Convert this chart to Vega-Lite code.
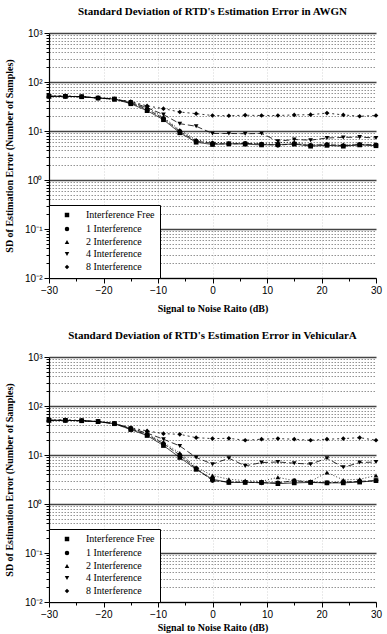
{
  "$schema": "https://vega.github.io/schema/vega-lite/v6.json",
  "padding": {"left": 4, "top": 6, "right": 7, "bottom": 1},
  "spacing": 17,
  "background": "white",
  "config": {"view": {"stroke": null}, "font": "Liberation Serif",
    "legend": {"labelFont": "Liberation Serif", "labelFontSize": 10, "labelColor": "black", "symbolSize": 20, "symbolFillColor": "black", "symbolStrokeColor": "black", "strokeColor": "black", "fillColor": "white", "padding": 5, "rowPadding": 2, "labelOffset": 14, "symbolOffset": 8}},
  "resolve": {"scale": {"shape": "independent", "strokeDash": "independent"}, "legend": {"shape": "independent", "strokeDash": "independent"}},
  "datasets": {
    "awgn": [
      {"snr": -30, "series": "Interference Free", "sd": 51}, {"snr": -27, "series": "Interference Free", "sd": 51}, {"snr": -24, "series": "Interference Free", "sd": 50}, {"snr": -21, "series": "Interference Free", "sd": 47}, {"snr": -18, "series": "Interference Free", "sd": 45}, {"snr": -15, "series": "Interference Free", "sd": 36}, {"snr": -12, "series": "Interference Free", "sd": 26}, {"snr": -9, "series": "Interference Free", "sd": 17}, {"snr": -6, "series": "Interference Free", "sd": 9.2}, {"snr": -3, "series": "Interference Free", "sd": 5.9}, {"snr": 0, "series": "Interference Free", "sd": 5.3}, {"snr": 3, "series": "Interference Free", "sd": 5.5}, {"snr": 6, "series": "Interference Free", "sd": 5.4}, {"snr": 9, "series": "Interference Free", "sd": 5.2}, {"snr": 12, "series": "Interference Free", "sd": 5.3}, {"snr": 15, "series": "Interference Free", "sd": 5.4}, {"snr": 18, "series": "Interference Free", "sd": 4.9}, {"snr": 21, "series": "Interference Free", "sd": 5.1}, {"snr": 24, "series": "Interference Free", "sd": 4.9}, {"snr": 27, "series": "Interference Free", "sd": 5.2}, {"snr": 30, "series": "Interference Free", "sd": 5.0},
      {"snr": -30, "series": "1 Interference", "sd": 51}, {"snr": -27, "series": "1 Interference", "sd": 51}, {"snr": -24, "series": "1 Interference", "sd": 50}, {"snr": -21, "series": "1 Interference", "sd": 47}, {"snr": -18, "series": "1 Interference", "sd": 45}, {"snr": -15, "series": "1 Interference", "sd": 37}, {"snr": -12, "series": "1 Interference", "sd": 28}, {"snr": -9, "series": "1 Interference", "sd": 18}, {"snr": -6, "series": "1 Interference", "sd": 9.8}, {"snr": -3, "series": "1 Interference", "sd": 6.2}, {"snr": 0, "series": "1 Interference", "sd": 5.6}, {"snr": 3, "series": "1 Interference", "sd": 5.4}, {"snr": 6, "series": "1 Interference", "sd": 5.6}, {"snr": 9, "series": "1 Interference", "sd": 5.4}, {"snr": 12, "series": "1 Interference", "sd": 5.1}, {"snr": 15, "series": "1 Interference", "sd": 5.5}, {"snr": 18, "series": "1 Interference", "sd": 5.1}, {"snr": 21, "series": "1 Interference", "sd": 5.3}, {"snr": 24, "series": "1 Interference", "sd": 5.0}, {"snr": 27, "series": "1 Interference", "sd": 5.3}, {"snr": 30, "series": "1 Interference", "sd": 5.2},
      {"snr": -30, "series": "2 Interference", "sd": 51}, {"snr": -27, "series": "2 Interference", "sd": 51}, {"snr": -24, "series": "2 Interference", "sd": 50}, {"snr": -21, "series": "2 Interference", "sd": 47}, {"snr": -18, "series": "2 Interference", "sd": 44}, {"snr": -15, "series": "2 Interference", "sd": 38}, {"snr": -12, "series": "2 Interference", "sd": 30}, {"snr": -9, "series": "2 Interference", "sd": 19}, {"snr": -6, "series": "2 Interference", "sd": 10.5}, {"snr": -3, "series": "2 Interference", "sd": 6.6}, {"snr": 0, "series": "2 Interference", "sd": 5.9}, {"snr": 3, "series": "2 Interference", "sd": 5.7}, {"snr": 6, "series": "2 Interference", "sd": 5.6}, {"snr": 9, "series": "2 Interference", "sd": 5.5}, {"snr": 12, "series": "2 Interference", "sd": 5.8}, {"snr": 15, "series": "2 Interference", "sd": 5.9}, {"snr": 18, "series": "2 Interference", "sd": 5.2}, {"snr": 21, "series": "2 Interference", "sd": 5.5}, {"snr": 24, "series": "2 Interference", "sd": 5.3}, {"snr": 27, "series": "2 Interference", "sd": 5.4}, {"snr": 30, "series": "2 Interference", "sd": 5.3},
      {"snr": -30, "series": "4 Interference", "sd": 51}, {"snr": -27, "series": "4 Interference", "sd": 51}, {"snr": -24, "series": "4 Interference", "sd": 50}, {"snr": -21, "series": "4 Interference", "sd": 47}, {"snr": -18, "series": "4 Interference", "sd": 45}, {"snr": -15, "series": "4 Interference", "sd": 39}, {"snr": -12, "series": "4 Interference", "sd": 30}, {"snr": -9, "series": "4 Interference", "sd": 21.6}, {"snr": -6, "series": "4 Interference", "sd": 14.1}, {"snr": -3, "series": "4 Interference", "sd": 12.5}, {"snr": 0, "series": "4 Interference", "sd": 8.9}, {"snr": 3, "series": "4 Interference", "sd": 8.9}, {"snr": 6, "series": "4 Interference", "sd": 8.8}, {"snr": 9, "series": "4 Interference", "sd": 8.9}, {"snr": 12, "series": "4 Interference", "sd": 6.2}, {"snr": 15, "series": "4 Interference", "sd": 6.7}, {"snr": 18, "series": "4 Interference", "sd": 6.5}, {"snr": 21, "series": "4 Interference", "sd": 7.2}, {"snr": 24, "series": "4 Interference", "sd": 7.4}, {"snr": 27, "series": "4 Interference", "sd": 7.5}, {"snr": 30, "series": "4 Interference", "sd": 7.2},
      {"snr": -30, "series": "8 Interference", "sd": 52}, {"snr": -27, "series": "8 Interference", "sd": 52}, {"snr": -24, "series": "8 Interference", "sd": 50}, {"snr": -21, "series": "8 Interference", "sd": 48}, {"snr": -18, "series": "8 Interference", "sd": 45}, {"snr": -15, "series": "8 Interference", "sd": 40}, {"snr": -12, "series": "8 Interference", "sd": 32.5}, {"snr": -9, "series": "8 Interference", "sd": 28.6}, {"snr": -6, "series": "8 Interference", "sd": 24.4}, {"snr": -3, "series": "8 Interference", "sd": 22.6}, {"snr": 0, "series": "8 Interference", "sd": 20.7}, {"snr": 3, "series": "8 Interference", "sd": 20.5}, {"snr": 6, "series": "8 Interference", "sd": 21}, {"snr": 9, "series": "8 Interference", "sd": 20.7}, {"snr": 12, "series": "8 Interference", "sd": 20.7}, {"snr": 15, "series": "8 Interference", "sd": 21.3}, {"snr": 18, "series": "8 Interference", "sd": 21.5}, {"snr": 21, "series": "8 Interference", "sd": 23.2}, {"snr": 24, "series": "8 Interference", "sd": 21.3}, {"snr": 27, "series": "8 Interference", "sd": 20}, {"snr": 30, "series": "8 Interference", "sd": 20.7}
    ],
    "veh": [
      {"snr": -30, "series": "Interference Free", "sd": 51}, {"snr": -27, "series": "Interference Free", "sd": 51}, {"snr": -24, "series": "Interference Free", "sd": 50}, {"snr": -21, "series": "Interference Free", "sd": 48}, {"snr": -18, "series": "Interference Free", "sd": 43.5}, {"snr": -15, "series": "Interference Free", "sd": 33}, {"snr": -12, "series": "Interference Free", "sd": 25}, {"snr": -9, "series": "Interference Free", "sd": 15.6}, {"snr": -6, "series": "Interference Free", "sd": 8.9}, {"snr": -3, "series": "Interference Free", "sd": 5.1}, {"snr": 0, "series": "Interference Free", "sd": 3.2}, {"snr": 3, "series": "Interference Free", "sd": 2.75}, {"snr": 6, "series": "Interference Free", "sd": 2.75}, {"snr": 9, "series": "Interference Free", "sd": 2.75}, {"snr": 12, "series": "Interference Free", "sd": 2.6}, {"snr": 15, "series": "Interference Free", "sd": 2.7}, {"snr": 18, "series": "Interference Free", "sd": 2.75}, {"snr": 21, "series": "Interference Free", "sd": 2.7}, {"snr": 24, "series": "Interference Free", "sd": 2.7}, {"snr": 27, "series": "Interference Free", "sd": 2.8}, {"snr": 30, "series": "Interference Free", "sd": 3.0},
      {"snr": -30, "series": "1 Interference", "sd": 51}, {"snr": -27, "series": "1 Interference", "sd": 51}, {"snr": -24, "series": "1 Interference", "sd": 50}, {"snr": -21, "series": "1 Interference", "sd": 48}, {"snr": -18, "series": "1 Interference", "sd": 43.5}, {"snr": -15, "series": "1 Interference", "sd": 34}, {"snr": -12, "series": "1 Interference", "sd": 26}, {"snr": -9, "series": "1 Interference", "sd": 17}, {"snr": -6, "series": "1 Interference", "sd": 10}, {"snr": -3, "series": "1 Interference", "sd": 5.3}, {"snr": 0, "series": "1 Interference", "sd": 3.0}, {"snr": 3, "series": "1 Interference", "sd": 2.8}, {"snr": 6, "series": "1 Interference", "sd": 2.8}, {"snr": 9, "series": "1 Interference", "sd": 2.7}, {"snr": 12, "series": "1 Interference", "sd": 2.7}, {"snr": 15, "series": "1 Interference", "sd": 3.0}, {"snr": 18, "series": "1 Interference", "sd": 2.8}, {"snr": 21, "series": "1 Interference", "sd": 2.7}, {"snr": 24, "series": "1 Interference", "sd": 2.8}, {"snr": 27, "series": "1 Interference", "sd": 2.9}, {"snr": 30, "series": "1 Interference", "sd": 3.0},
      {"snr": -30, "series": "2 Interference", "sd": 51}, {"snr": -27, "series": "2 Interference", "sd": 51}, {"snr": -24, "series": "2 Interference", "sd": 50}, {"snr": -21, "series": "2 Interference", "sd": 48}, {"snr": -18, "series": "2 Interference", "sd": 44}, {"snr": -15, "series": "2 Interference", "sd": 35}, {"snr": -12, "series": "2 Interference", "sd": 27}, {"snr": -9, "series": "2 Interference", "sd": 18}, {"snr": -6, "series": "2 Interference", "sd": 11}, {"snr": -3, "series": "2 Interference", "sd": 5.6}, {"snr": 0, "series": "2 Interference", "sd": 3.8}, {"snr": 3, "series": "2 Interference", "sd": 3.2}, {"snr": 6, "series": "2 Interference", "sd": 3.0}, {"snr": 9, "series": "2 Interference", "sd": 2.9}, {"snr": 12, "series": "2 Interference", "sd": 3.5}, {"snr": 15, "series": "2 Interference", "sd": 3.0}, {"snr": 18, "series": "2 Interference", "sd": 2.9}, {"snr": 21, "series": "2 Interference", "sd": 4.4}, {"snr": 24, "series": "2 Interference", "sd": 3.1}, {"snr": 27, "series": "2 Interference", "sd": 3.2}, {"snr": 30, "series": "2 Interference", "sd": 3.8},
      {"snr": -30, "series": "4 Interference", "sd": 51}, {"snr": -27, "series": "4 Interference", "sd": 51}, {"snr": -24, "series": "4 Interference", "sd": 50}, {"snr": -21, "series": "4 Interference", "sd": 48}, {"snr": -18, "series": "4 Interference", "sd": 44}, {"snr": -15, "series": "4 Interference", "sd": 35}, {"snr": -12, "series": "4 Interference", "sd": 28}, {"snr": -9, "series": "4 Interference", "sd": 21}, {"snr": -6, "series": "4 Interference", "sd": 15.3}, {"snr": -3, "series": "4 Interference", "sd": 8.9}, {"snr": 0, "series": "4 Interference", "sd": 6.5}, {"snr": 3, "series": "4 Interference", "sd": 8.6}, {"snr": 6, "series": "4 Interference", "sd": 6.0}, {"snr": 9, "series": "4 Interference", "sd": 7.0}, {"snr": 12, "series": "4 Interference", "sd": 7.2}, {"snr": 15, "series": "4 Interference", "sd": 6.8}, {"snr": 18, "series": "4 Interference", "sd": 6.5}, {"snr": 21, "series": "4 Interference", "sd": 8.6}, {"snr": 24, "series": "4 Interference", "sd": 5.6}, {"snr": 27, "series": "4 Interference", "sd": 7.0}, {"snr": 30, "series": "4 Interference", "sd": 7.2},
      {"snr": -30, "series": "8 Interference", "sd": 52}, {"snr": -27, "series": "8 Interference", "sd": 52}, {"snr": -24, "series": "8 Interference", "sd": 51}, {"snr": -21, "series": "8 Interference", "sd": 48}, {"snr": -18, "series": "8 Interference", "sd": 44}, {"snr": -15, "series": "8 Interference", "sd": 36}, {"snr": -12, "series": "8 Interference", "sd": 31}, {"snr": -9, "series": "8 Interference", "sd": 27.3}, {"snr": -6, "series": "8 Interference", "sd": 26.4}, {"snr": -3, "series": "8 Interference", "sd": 22.6}, {"snr": 0, "series": "8 Interference", "sd": 21.6}, {"snr": 3, "series": "8 Interference", "sd": 21.9}, {"snr": 6, "series": "8 Interference", "sd": 20}, {"snr": 9, "series": "8 Interference", "sd": 21}, {"snr": 12, "series": "8 Interference", "sd": 21.6}, {"snr": 15, "series": "8 Interference", "sd": 21}, {"snr": 18, "series": "8 Interference", "sd": 20}, {"snr": 21, "series": "8 Interference", "sd": 21}, {"snr": 24, "series": "8 Interference", "sd": 21.6}, {"snr": 27, "series": "8 Interference", "sd": 22.6}, {"snr": 30, "series": "8 Interference", "sd": 20}
    ]
  },
  "vconcat": [
    {
      "title": {"text": "Standard Deviation of RTD's Estimation Error in AWGN", "font": "Liberation Serif", "fontSize": 11, "fontWeight": "bold", "offset": 11, "color": "black"},
      "width": 327, "height": 245,
      "data": {"name": "awgn"},
      "encoding": {
        "x": {"field": "snr", "type": "quantitative", "title": "Signal to Noise Raito (dB)",
          "scale": {"domain": [-30, 30], "nice": false, "zero": false},
          "axis": {"values": [-30, -25, -20, -15, -10, -5, 0, 5, 10, 15, 20, 25, 30], "labelExpr": "datum.value % 10 == 0 ? datum.label : ''", "labelFlush": false, "labelOverlap": false, "labelFont": "Liberation Sans", "labelFontSize": 10, "labelColor": "black", "labelPadding": 2, "tickColor": "black", "tickSize": {"condition": {"test": "datum.value % 10 == 0", "value": 5}, "value": 3}, "domainColor": "black", "domainWidth": 1.2, "grid": true, "gridColor": "#888", "gridDash": [1, 2], "gridWidth": 0.6, "gridOpacity": {"condition": {"test": "datum.value % 10 == 0 && abs(datum.value) < 30", "value": 0.6}, "value": 0}, "titleFont": "Liberation Serif", "titleFontSize": 10, "titleFontWeight": "bold", "titleColor": "black", "titlePadding": 8}},
        "y": {"field": "sd", "type": "quantitative", "title": "SD of Estimation Error (Number of Samples)",
          "scale": {"type": "log", "domain": [0.01, 1000], "nice": false},
          "axis": {"values": [0.01, 0.02, 0.03, 0.04, 0.05, 0.06, 0.07, 0.08, 0.09, 0.1, 0.2, 0.3, 0.4, 0.5, 0.6, 0.7, 0.8, 0.9, 1, 2, 3, 4, 5, 6, 7, 8, 9, 10, 20, 30, 40, 50, 60, 70, 80, 90, 100, 200, 300, 400, 500, 600, 700, 800, 900, 1000],
            "labelExpr": "datum.value == 1000 ? '10³' : datum.value == 100 ? '10²' : datum.value == 10 ? '10¹' : datum.value == 1 ? '10⁰' : datum.value == 0.1 ? '10⁻¹' : datum.value == 0.01 ? '10⁻²' : ''",
            "labelOverlap": false, "labelFont": "Liberation Sans", "labelFontSize": 10, "labelColor": "black", "labelPadding": 2,
            "tickColor": "black", "tickSize": {"condition": {"test": "indexof([0.01,0.1,1,10,100,1000], datum.value) >= 0", "value": 5}, "value": 3},
            "domainColor": "black", "domainWidth": 1.2,
            "grid": true,
            "gridColor": {"condition": {"test": "indexof([0.01,0.1,1,10,100,1000], datum.value) >= 0", "value": "#444"}, "value": "#666"},
            "gridDash": {"condition": {"test": "indexof([0.01,0.1,1,10,100,1000], datum.value) >= 0", "value": []}, "value": [1.5, 1.5]},
            "gridWidth": {"condition": {"test": "indexof([0.01,0.1,1,10,100,1000], datum.value) >= 0", "value": 1.6}, "value": 0.7},
            "minExtent": 30, "maxExtent": 30,
            "titleFont": "Liberation Serif", "titleFontSize": 10, "titleFontWeight": "bold", "titleColor": "black", "titlePadding": 5}}
      },
      "layer": [
        {"mark": {"type": "line", "color": "black", "strokeWidth": 0.8},
         "encoding": {"strokeDash": {"field": "series", "type": "nominal",
           "scale": {"domain": ["Interference Free", "1 Interference", "2 Interference", "4 Interference", "8 Interference"], "range": [[1, 0], [5, 2], [1, 2], [6, 3], [2, 3]]},
           "legend": {"title": null, "orient": "bottom-left", "offset": 0}}}},
        {"mark": {"type": "point", "filled": true, "color": "black", "size": 22, "opacity": 1},
         "encoding": {"shape": {"field": "series", "type": "nominal",
           "scale": {"domain": ["Interference Free", "1 Interference", "2 Interference", "4 Interference", "8 Interference"], "range": ["square", "circle", "triangle-up", "triangle-down", "diamond"]},
           "legend": {"title": null, "orient": "bottom-left", "offset": 0}}}}
      ]
    },
    {
      "title": {"text": "Standard Deviation of RTD's Estimation Error in VehicularA", "font": "Liberation Serif", "fontSize": 11, "fontWeight": "bold", "offset": 11, "color": "black"},
      "width": 327, "height": 245,
      "data": {"name": "veh"},
      "encoding": {
        "x": {"field": "snr", "type": "quantitative", "title": "Signal to Noise Raito (dB)",
          "scale": {"domain": [-30, 30], "nice": false, "zero": false},
          "axis": {"values": [-30, -25, -20, -15, -10, -5, 0, 5, 10, 15, 20, 25, 30], "labelExpr": "datum.value % 10 == 0 ? datum.label : ''", "labelFlush": false, "labelOverlap": false, "labelFont": "Liberation Sans", "labelFontSize": 10, "labelColor": "black", "labelPadding": 2, "tickColor": "black", "tickSize": {"condition": {"test": "datum.value % 10 == 0", "value": 5}, "value": 3}, "domainColor": "black", "domainWidth": 1.2, "grid": true, "gridColor": "#888", "gridDash": [1, 2], "gridWidth": 0.6, "gridOpacity": {"condition": {"test": "datum.value % 10 == 0 && abs(datum.value) < 30", "value": 0.6}, "value": 0}, "titleFont": "Liberation Serif", "titleFontSize": 10, "titleFontWeight": "bold", "titleColor": "black", "titlePadding": 3}},
        "y": {"field": "sd", "type": "quantitative", "title": "SD of Estimation Error (Number of Samples)",
          "scale": {"type": "log", "domain": [0.01, 1000], "nice": false},
          "axis": {"values": [0.01, 0.02, 0.03, 0.04, 0.05, 0.06, 0.07, 0.08, 0.09, 0.1, 0.2, 0.3, 0.4, 0.5, 0.6, 0.7, 0.8, 0.9, 1, 2, 3, 4, 5, 6, 7, 8, 9, 10, 20, 30, 40, 50, 60, 70, 80, 90, 100, 200, 300, 400, 500, 600, 700, 800, 900, 1000],
            "labelExpr": "datum.value == 1000 ? '10³' : datum.value == 100 ? '10²' : datum.value == 10 ? '10¹' : datum.value == 1 ? '10⁰' : datum.value == 0.1 ? '10⁻¹' : datum.value == 0.01 ? '10⁻²' : ''",
            "labelOverlap": false, "labelFont": "Liberation Sans", "labelFontSize": 10, "labelColor": "black", "labelPadding": 2,
            "tickColor": "black", "tickSize": {"condition": {"test": "indexof([0.01,0.1,1,10,100,1000], datum.value) >= 0", "value": 5}, "value": 3},
            "domainColor": "black", "domainWidth": 1.2,
            "grid": true,
            "gridColor": {"condition": {"test": "indexof([0.01,0.1,1,10,100,1000], datum.value) >= 0", "value": "#444"}, "value": "#666"},
            "gridDash": {"condition": {"test": "indexof([0.01,0.1,1,10,100,1000], datum.value) >= 0", "value": []}, "value": [1.5, 1.5]},
            "gridWidth": {"condition": {"test": "indexof([0.01,0.1,1,10,100,1000], datum.value) >= 0", "value": 1.6}, "value": 0.7},
            "minExtent": 30, "maxExtent": 30,
            "titleFont": "Liberation Serif", "titleFontSize": 10, "titleFontWeight": "bold", "titleColor": "black", "titlePadding": 5}}
      },
      "layer": [
        {"mark": {"type": "line", "color": "black", "strokeWidth": 0.8},
         "encoding": {"strokeDash": {"field": "series", "type": "nominal",
           "scale": {"domain": ["Interference Free", "1 Interference", "2 Interference", "4 Interference", "8 Interference"], "range": [[1, 0], [5, 2], [1, 2], [6, 3], [2, 3]]},
           "legend": {"title": null, "orient": "bottom-left", "offset": 0}}}},
        {"mark": {"type": "point", "filled": true, "color": "black", "size": 22, "opacity": 1},
         "encoding": {"shape": {"field": "series", "type": "nominal",
           "scale": {"domain": ["Interference Free", "1 Interference", "2 Interference", "4 Interference", "8 Interference"], "range": ["square", "circle", "triangle-up", "triangle-down", "diamond"]},
           "legend": {"title": null, "orient": "bottom-left", "offset": 0}}}}
      ]
    }
  ]
}
